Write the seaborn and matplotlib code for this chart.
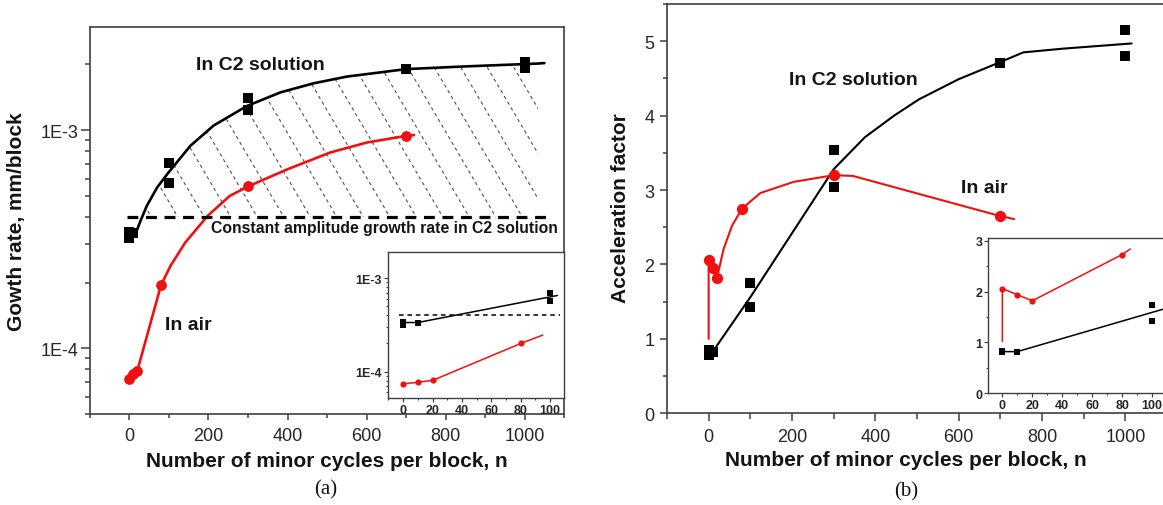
import numpy as np
import matplotlib
matplotlib.use("Agg")
import matplotlib.pyplot as plt
import matplotlib.ticker as mticker
from matplotlib.collections import LineCollection
import seaborn as sns

# ---------------- Panel (a): growth rate (mm/block) ----------------
c2_n = [0, 0, 10, 100, 100, 300, 300, 700, 1000, 1000]
c2_rate = [3.40e-4, 3.22e-4, 3.37e-4, 7.06e-4, 5.75e-4, 1.41e-3, 1.24e-3, 1.905e-3, 2.06e-3, 1.93e-3]
c2_fit_n = [15, 28, 44, 70, 99, 154, 213, 297, 382, 466, 550, 700, 850, 1034, 1050]
c2_fit_rate = [3.33e-4, 3.84e-4, 4.5e-4, 5.46e-4, 6.4e-4, 8.47e-4, 1.05e-3, 1.29e-3, 1.49e-3,
               1.64e-3, 1.76e-3, 1.905e-3, 1.96e-3, 2.02e-3, 2.03e-3]
air_n = [0, 10, 20, 80, 300, 700]
air_rate = [7.2e-5, 7.6e-5, 7.9e-5, 1.95e-4, 5.52e-4, 9.42e-4]
air_fit_n = [0, 10, 20, 80, 104, 141, 198, 254, 300, 400, 508, 601, 700, 720]
air_fit_rate = [7.2e-5, 7.6e-5, 7.9e-5, 1.95e-4, 2.39e-4, 3.05e-4, 4.05e-4, 5.0e-4,
                5.52e-4, 6.62e-4, 7.9e-4, 8.78e-4, 9.42e-4, 9.5e-4]
const_rate = 4.0e-4
const_span = [-5, 1070]
hatch_end = 1034

# inset (a)
ia_c2_n = [0, 0, 10, 100, 100]
ia_c2_rate = [3.42e-4, 3.18e-4, 3.35e-4, 6.95e-4, 5.71e-4]
ia_c2_line_n = [0, 10, 105]
ia_c2_line_rate = [3.35e-4, 3.35e-4, 6.52e-4]
ia_air_n = [0, 10, 20, 80]
ia_air_rate = [7.4e-5, 7.7e-5, 8.06e-5, 2.0e-4]
ia_air_line_n = [0, 10, 20, 80, 95]
ia_air_line_rate = [7.4e-5, 7.7e-5, 8.06e-5, 2.0e-4, 2.46e-4]
ia_const = 4.07e-4
ia_const_span = [-3, 107]

# ---------------- Panel (b): acceleration factor ----------------
b_c2_n = [0, 0, 10, 100, 100, 300, 300, 700, 1000, 1000]
b_c2_af = [0.85, 0.79, 0.83, 1.75, 1.43, 3.54, 3.04, 4.71, 5.15, 4.80]
b_c2_fit_n = [10, 100, 200, 300, 375, 445, 505, 600, 700, 755, 850, 1015]
b_c2_fit_af = [0.83, 1.56, 2.42, 3.28, 3.71, 4.0, 4.22, 4.49, 4.72, 4.85, 4.90, 4.97]
b_air_n = [0, 10, 20, 80, 300, 700]
b_air_af = [2.06, 1.95, 1.82, 2.75, 3.20, 2.65]
b_air_fit_n = [0, 0, 10, 20, 36, 56, 80, 124, 204, 300, 346, 700, 733]
b_air_fit_af = [1.0, 2.06, 1.95, 1.82, 2.21, 2.52, 2.75, 2.96, 3.11, 3.20, 3.19, 2.65, 2.61]

# inset (b)
ib_c2_n = [0, 0, 10, 100, 100]
ib_c2_af = [0.84, 0.81, 0.82, 1.74, 1.43]
ib_c2_line_n = [0, 10, 108]
ib_c2_line_af = [0.82, 0.82, 1.66]
ib_air_n = [0, 10, 20, 80]
ib_air_af = [2.06, 1.94, 1.82, 2.73]
ib_air_line_n = [0, 0, 10, 20, 80, 85.5]
ib_air_line_af = [1.02, 2.06, 1.94, 1.82, 2.73, 2.84]

# ---------------- style ----------------
sns.set_style("ticks")
plt.rcParams['font.family'] = ['Liberation Sans', 'DejaVu Sans']
RED = '#f01010'
SPINE = '#404040'
TXT = '#141414'

fig = plt.figure(figsize=(11.63, 5.06), dpi=100)
axA = fig.add_axes([0.0773, 0.1798, 0.4078, 0.7648])
axAi = fig.add_axes([0.3334, 0.2109, 0.1518, 0.2891])
axB = fig.add_axes([0.5735, 0.1812, 0.4479, 0.8089])
axBi = fig.add_axes([0.8495, 0.2208, 0.1604, 0.3063])


def style_spines(ax, lw=1.2):
    for s in ax.spines.values():
        s.set_visible(True)
        s.set_color(SPINE)
        s.set_linewidth(lw)


# ======== Panel (a) ========
ax = axA
ax.set_yscale('log')
sns.lineplot(x=c2_fit_n, y=c2_fit_rate, sort=False, estimator=None, color='black',
             linewidth=1.9, ax=ax, zorder=3)
sns.lineplot(x=air_fit_n, y=air_fit_rate, sort=False, estimator=None, color=RED,
             linewidth=1.9, ax=ax, zorder=3)
sns.scatterplot(x=c2_n, y=c2_rate, marker='s', s=52, color='black', linewidth=0,
                ax=ax, zorder=4)
sns.scatterplot(x=air_n, y=air_rate, marker='o', s=60, color=RED, linewidth=0,
                ax=ax, zorder=4)
ax.plot(const_span, [const_rate, const_rate], color='black', lw=2.3,
        dashes=(3.4, 2.4), zorder=3)

# hatched region between the C2 curve and the constant amplitude line
fill_n = [n for n in c2_fit_n if n <= hatch_end]
fill_r = c2_fit_rate[:len(fill_n)]
poly = ax.fill_between(fill_n, const_rate, fill_r,
                       where=np.array(fill_r) >= const_rate, interpolate=True,
                       facecolor='none', edgecolor='none')
clip_path = poly.get_paths()[0]
k = 1.7 * (474.3 / 387.0)      # slope in axes-fraction units
spacing = 26.5 / 474.3
segs = [[(c, 1.0), (c + 1.0 / k, 0.0)] for c in np.arange(-1.0, 1.2, spacing)]
lc = LineCollection(segs, transform=ax.transAxes, colors='#505050',
                    linewidths=0.8, linestyles=[(0, (3, 3))], zorder=2)
ax.add_collection(lc, autolim=False)
lc.set_clip_path(clip_path, ax.transData)

ax.set_xlim(-100, 1100)
ax.set_ylim(5e-5, 2.97e-3)
ax.xaxis.set_major_locator(mticker.MultipleLocator(200))
ax.xaxis.set_minor_locator(mticker.MultipleLocator(100))
ax.yaxis.set_major_locator(mticker.FixedLocator([1e-4, 1e-3]))
ax.yaxis.set_major_formatter(mticker.FixedFormatter(['1E-4', '1E-3']))
ax.yaxis.set_minor_locator(mticker.LogLocator(base=10, subs=np.arange(2, 10)))
ax.yaxis.set_minor_formatter(mticker.NullFormatter())
ax.tick_params(axis='x', which='major', length=4, width=1.1, color=SPINE,
               labelsize=13, pad=5.5, direction='out')
ax.tick_params(axis='x', which='minor', length=3, width=1.1, color=SPINE, direction='out')
ax.tick_params(axis='y', which='major', length=6.5, width=1.1, color=SPINE,
               labelsize=13, pad=2, direction='out')
ax.tick_params(axis='y', which='minor', length=3.6, width=1.1, color=SPINE, direction='out')
style_spines(ax)
ax.set_xlabel('Number of minor cycles per block, n', fontsize=15, fontweight='bold', color=TXT)
ax.set_ylabel('Gowth rate, mm/block', fontsize=15, fontweight='bold', color=TXT)
ax.xaxis.set_label_coords(0.499, -0.119)
ax.xaxis.label.set_verticalalignment('center')
ax.yaxis.set_label_coords(-0.1545, 0.5)
ax.yaxis.label.set_verticalalignment('center')
ax.text(169, 1.99e-3, 'In C2 solution', fontsize=14, fontweight='bold', color=TXT,
        ha='left', va='center', zorder=5)
ax.text(207, 3.57e-4, 'Constant amplitude growth rate in C2 solution', fontsize=11.3,
        fontweight='bold', color=TXT, ha='left', va='center', zorder=5)
ax.text(90, 1.28e-4, 'In air', fontsize=14, fontweight='bold', color=TXT,
        ha='left', va='center', zorder=5)

# inset (a)
ax = axAi
ax.set_facecolor('white')
ax.set_yscale('log')
sns.lineplot(x=ia_c2_line_n, y=ia_c2_line_rate, sort=False, estimator=None,
             color='black', linewidth=1.1, ax=ax, zorder=3)
sns.lineplot(x=ia_air_line_n, y=ia_air_line_rate, sort=False, estimator=None,
             color=RED, linewidth=1.1, ax=ax, zorder=3)
sns.scatterplot(x=ia_c2_n, y=ia_c2_rate, marker='s', s=20, color='black', linewidth=0,
                ax=ax, zorder=4)
sns.scatterplot(x=ia_air_n, y=ia_air_rate, marker='o', s=20, color=RED, linewidth=0,
                ax=ax, zorder=4)
ax.plot(ia_const_span, [ia_const, ia_const], color='black', lw=1.1,
        dashes=(3, 2.5), zorder=3)
ax.set_xlim(-10.5, 109.6)
ax.set_ylim(5.19e-5, 1.9e-3)
ax.xaxis.set_major_locator(mticker.MultipleLocator(20))
ax.xaxis.set_minor_locator(mticker.MultipleLocator(10))
ax.yaxis.set_major_locator(mticker.FixedLocator([1e-4, 1e-3]))
ax.yaxis.set_major_formatter(mticker.FixedFormatter(['1E-4', '1E-3']))
ax.yaxis.set_minor_locator(mticker.LogLocator(base=10, subs=np.arange(2, 10)))
ax.yaxis.set_minor_formatter(mticker.NullFormatter())
ax.tick_params(which='major', length=2.6, width=0.9, color=SPINE, labelsize=9, pad=1.5)
ax.tick_params(which='minor', length=1.6, width=0.8, color=SPINE)
for lab in ax.get_xticklabels() + ax.get_yticklabels():
    lab.set_fontweight('bold')
style_spines(ax, 1.0)
ax.set_xlabel('')
ax.set_ylabel('')

# ======== Panel (b) ========
ax = axB
sns.lineplot(x=b_c2_fit_n, y=b_c2_fit_af, sort=False, estimator=None, color='black',
             linewidth=1.5, ax=ax, zorder=3)
sns.lineplot(x=b_air_fit_n, y=b_air_fit_af, sort=False, estimator=None, color=RED,
             linewidth=1.5, ax=ax, zorder=3)
sns.scatterplot(x=b_c2_n, y=b_c2_af, marker='s', s=52, color='black', linewidth=0,
                ax=ax, zorder=4)
sns.scatterplot(x=b_air_n, y=b_air_af, marker='o', s=66, color=RED, linewidth=0,
                ax=ax, zorder=4)
ax.set_xlim(-100, 1150)
ax.set_ylim(0, 5.5)
ax.xaxis.set_major_locator(mticker.MultipleLocator(200))
ax.xaxis.set_minor_locator(mticker.MultipleLocator(100))
ax.yaxis.set_major_locator(mticker.MultipleLocator(1))
ax.yaxis.set_minor_locator(mticker.MultipleLocator(0.5))
ax.tick_params(axis='x', which='major', length=5.8, width=1.1, color=SPINE,
               labelsize=13, pad=4.8, direction='out')
ax.tick_params(axis='x', which='minor', length=4, width=1.1, color=SPINE, direction='out')
ax.tick_params(axis='y', which='major', length=5.3, width=1.1, color=SPINE,
               labelsize=13, pad=3.6, direction='out')
ax.tick_params(axis='y', which='minor', length=3, width=1.1, color=SPINE, direction='out')
style_spines(ax)
ax.set_xlabel('Number of minor cycles per block, n', fontsize=15, fontweight='bold', color=TXT)
ax.set_ylabel('Acceleration factor', fontsize=15, fontweight='bold', color=TXT)
ax.xaxis.set_label_coords(0.4584, -0.1117)
ax.xaxis.label.set_verticalalignment('center')
ax.yaxis.set_label_coords(-0.0883, 0.504)
ax.yaxis.label.set_verticalalignment('center')
ax.text(192, 4.48, 'In C2 solution', fontsize=14, fontweight='bold', color=TXT,
        ha='left', va='center', zorder=5)
ax.text(606, 3.04, 'In air', fontsize=14, fontweight='bold', color=TXT,
        ha='left', va='center', zorder=5)

# inset (b)
ax = axBi
ax.set_facecolor('white')
sns.lineplot(x=ib_c2_line_n, y=ib_c2_line_af, sort=False, estimator=None,
             color='black', linewidth=1.1, ax=ax, zorder=3)
sns.lineplot(x=ib_air_line_n, y=ib_air_line_af, sort=False, estimator=None,
             color=RED, linewidth=1.1, ax=ax, zorder=3)
sns.scatterplot(x=ib_c2_n, y=ib_c2_af, marker='s', s=18, color='black', linewidth=0,
                ax=ax, zorder=4)
sns.scatterplot(x=ib_air_n, y=ib_air_af, marker='o', s=20, color=RED, linewidth=0,
                ax=ax, zorder=4)
ax.set_xlim(-9.6, 115)
ax.set_ylim(0, 3.05)
ax.xaxis.set_major_locator(mticker.MultipleLocator(20))
ax.xaxis.set_minor_locator(mticker.MultipleLocator(10))
ax.yaxis.set_major_locator(mticker.MultipleLocator(1))
ax.yaxis.set_minor_locator(mticker.MultipleLocator(0.5))
ax.tick_params(which='major', length=2.6, width=0.9, color=SPINE, labelsize=9, pad=1.5)
ax.tick_params(which='minor', length=1.6, width=0.8, color=SPINE)
for lab in ax.get_xticklabels() + ax.get_yticklabels():
    lab.set_fontweight('bold')
style_spines(ax, 1.0)
ax.set_xlabel('')
ax.set_ylabel('')

# panel captions
fig.text(326 / 1163, 1 - 490 / 506, '(a)', fontsize=15, family=['Liberation Serif', 'DejaVu Serif'],
         ha='center', va='center', color=TXT)
fig.text(906 / 1163, 1 - 491.7 / 506, '(b)', fontsize=15, family=['Liberation Serif', 'DejaVu Serif'],
         ha='center', va='center', color=TXT)

fig.savefig('out.png', dpi=100, facecolor='white')
